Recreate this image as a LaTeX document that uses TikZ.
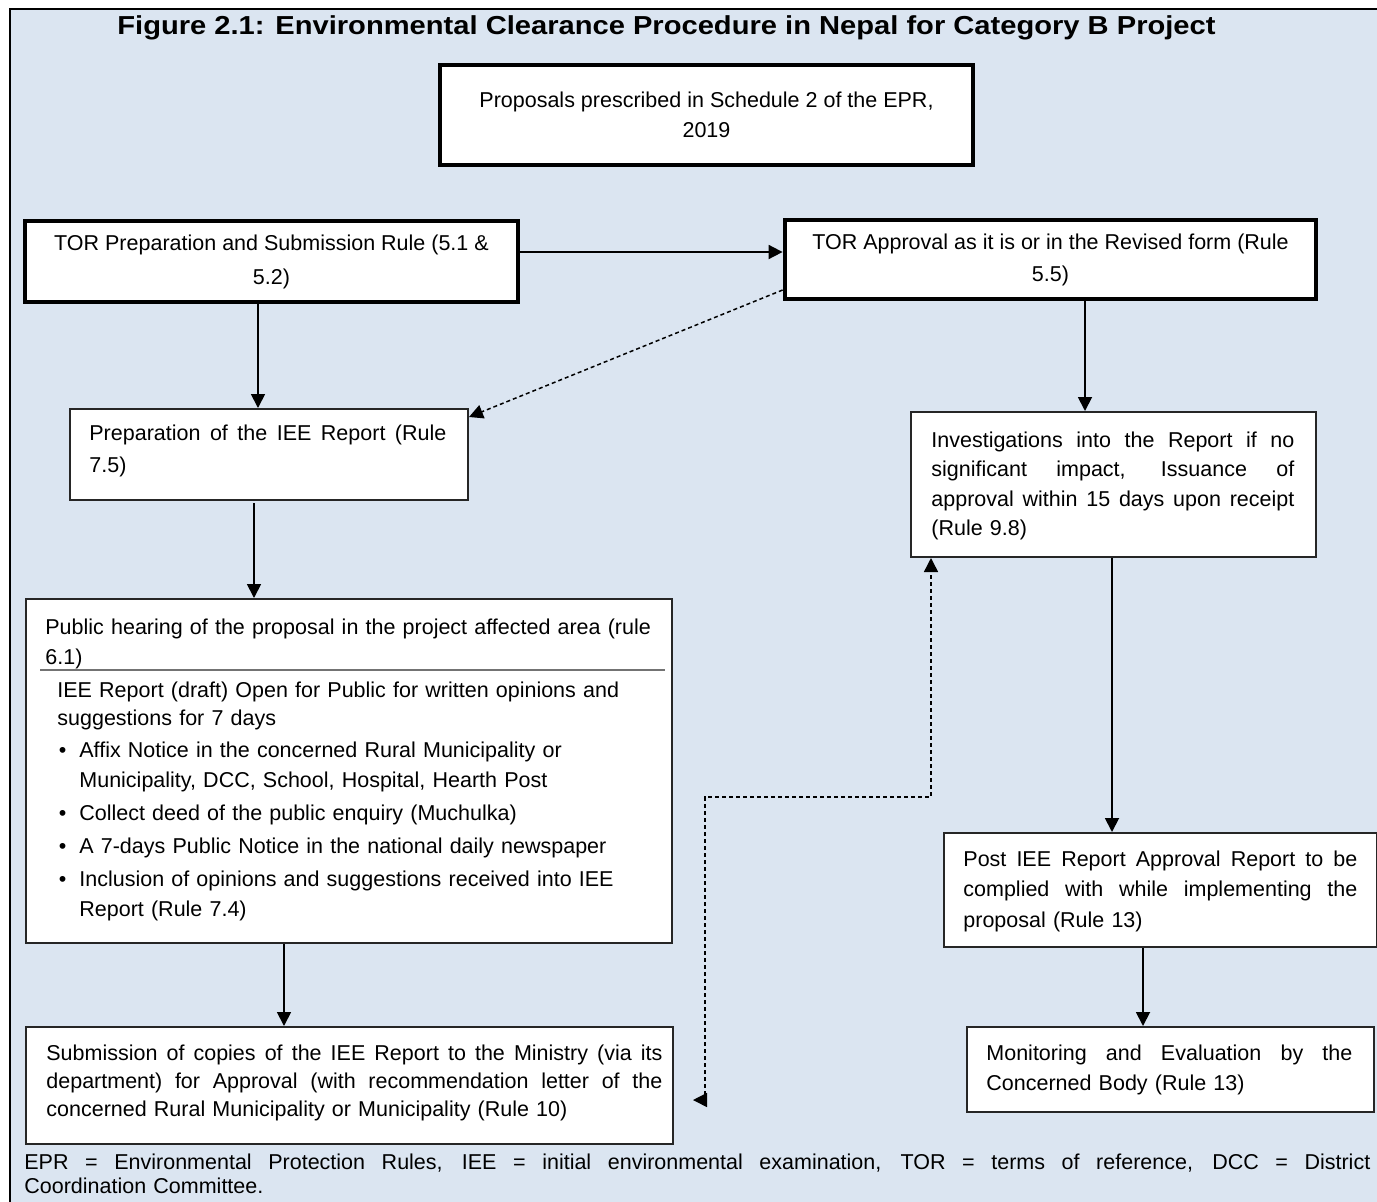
\documentclass[tikz,border=0pt]{standalone}
\usepackage{fontspec}
\setmainfont{Liberation Sans}
\usetikzlibrary{arrows.meta}
\definecolor{bgblue}{HTML}{DBE5F1}
\newcommand\bodyfs[1]{\fontsize{10.75pt}{#1}\selectfont}
\newcommand\jl[2]{\leavevmode\hbox to #1{\spaceskip=\fontdimen2\font plus 1fil\relax\xspaceskip=\spaceskip #2}}
\begin{document}
\begin{tikzpicture}[x=0.5pt,y=-0.5pt,
  box/.style={draw=black!85, line width=1pt, fill=white, inner sep=0pt, anchor=north west},
  thickbox/.style={draw=black, line width=2.4pt, fill=white, inner sep=0pt, align=center},
  txt/.style={inner sep=0pt, anchor=north west, align=left},
  arr/.style={line width=0.9pt, -{Triangle[length=7pt,width=7pt]}},
  darr/.style={line width=0.75pt, dash pattern=on 2pt off 1.5pt, -{Triangle[length=7pt,width=7pt]}},
  ddarr/.style={line width=0.75pt, dash pattern=on 2pt off 1.5pt, {Triangle[length=7pt,width=7pt]}-{Triangle[length=7pt,width=7pt]}}]
\useasboundingbox (0,0) rectangle (1377,1201);
\clip (0,0) rectangle (1377,1201);
\fill[white] (0,0) rectangle (1377,1201);
\fill[bgblue] (10,9) rectangle (1400,1220);
\draw[line width=1pt] (10,1220) -- (10,9) -- (1400,9);

% title
\node[inner sep=0pt, font=\fontsize{13pt}{15pt}\selectfont\bfseries] (title) at (666.5,28)
  {\scalebox{1.12}[1]{Figure 2.1: Environmental Clearance Procedure in Nepal for Category B Project}};

% thick boxes
\node[thickbox, minimum width=266.5pt, minimum height=50pt, font=\bodyfs{15pt}] (b0) at (706.5,115)
  {Proposals prescribed in Schedule 2 of the EPR,\\2019};
\node[thickbox, minimum width=246.5pt, minimum height=40.5pt, font=\bodyfs{17pt}] (b1) at (271.5,261.5)
  {TOR Preparation and Submission Rule (5.1 \&\\5.2)};
\node[thickbox, minimum width=265.5pt, minimum height=39.5pt, font=\bodyfs{16pt}] (b2) at (1050.5,259.5)
  {TOR Approval as it is or in the Revised form (Rule\\5.5)};

% plain boxes
\node[box, minimum width=199pt, minimum height=45.5pt] (b3) at (69,408) {};
\node[box, minimum width=202.5pt, minimum height=72.5pt] (b4) at (910,411) {};
\node[box, minimum width=323pt, minimum height=172pt] (b5) at (25,598) {};
\node[box, minimum width=323.5pt, minimum height=58.5pt] (b6) at (25,1026) {};
\node[box, minimum width=216.5pt, minimum height=57pt] (b7) at (943,832) {};
\node[box, minimum width=203.5pt, minimum height=42.5pt] (b8) at (966,1026) {};

% texts
\node[txt, text width=180pt, font=\bodyfs{16pt}] (t3) at (89,417.6)
  {\strut\jl{178.5pt}{Preparation of the IEE Report (Rule}\\7.5)};
\node[txt, text width=182pt, font=\bodyfs{14.75pt}] (t4) at (931,426.3)
  {\strut\jl{181.5pt}{Investigations into the Report if no}\\
   \jl{181.5pt}{significant impact, Issuance of}\\
   \jl{181.5pt}{approval within 15 days upon receipt}\\
   (Rule 9.8)};
\node[txt, text width=315pt, font=\bodyfs{15pt}] (t5h) at (45,613)
  {\strut Public hearing of the proposal in the project affected area (rule\\6.1)};
\draw[line width=0.9pt, black!55] (40,670) -- (665,670);
\node[txt, text width=300pt, font=\bodyfs{14pt}] (t5i) at (57,677.4)
  {\strut IEE Report (draft) Open for Public for written opinions and\\suggestions for 7 days};
\node[txt, text width=290pt, font=\bodyfs{15pt}] (i1) at (79,736)
  {\strut\llap{\textbullet\hspace{6.5pt}}Affix Notice in the concerned Rural Municipality or\\Municipality, DCC, School, Hospital, Hearth Post};
\node[txt, text width=290pt, font=\bodyfs{15pt}] (i2) at (79,799)
  {\strut\llap{\textbullet\hspace{6.5pt}}Collect deed of the public enquiry (Muchulka)};
\node[txt, text width=290pt, font=\bodyfs{15pt}] (i3) at (79,832)
  {\strut\llap{\textbullet\hspace{6.5pt}}A 7-days Public Notice in the national daily newspaper};
\node[txt, text width=290pt, font=\bodyfs{15pt}] (i4) at (79,865)
  {\strut\llap{\textbullet\hspace{6.5pt}}Inclusion of opinions and suggestions received into IEE\\Report (Rule 7.4)};
\node[txt, text width=309pt, font=\bodyfs{14pt}] (t6) at (46,1040)
  {\strut\jl{308pt}{Submission of copies of the IEE Report to the Ministry (via its}\\
   \jl{308pt}{department) for Approval (with recommendation letter of the}\\
   concerned Rural Municipality or Municipality (Rule 10)};
\node[txt, text width=198pt, font=\bodyfs{15.25pt}] (t7) at (963,844.6)
  {\strut\jl{197pt}{Post IEE Report Approval Report to be}\\
   \jl{197pt}{complied with while implementing the}\\
   proposal (Rule 13)};
\node[txt, text width=184pt, font=\bodyfs{15pt}] (t8) at (986,1039)
  {\strut\jl{183pt}{Monitoring and Evaluation by the}\\
   Concerned Body (Rule 13)};
\node[txt, text width=674pt, font=\bodyfs{12pt}] (foot) at (24,1152.2)
  {\strut\jl{673pt}{EPR = Environmental Protection Rules, IEE = initial environmental examination, TOR = terms of reference, DCC = District}\\
   Coordination Committee.};

% x positions for connectors
\coordinate (xa) at (258,0);
\coordinate (xb) at (1085,0);
\coordinate (xc) at (254,0);
\coordinate (xd) at (284,0);
\coordinate (xe) at (1112,0);
\coordinate (xf) at (1143,0);
\coordinate (ya) at (0,252);
\coordinate (yb) at (0,290);
\coordinate (yc) at (0,417);
\coordinate (s3) at (254,503);

% solid connectors
\draw[arr] (b1.east |- ya) -- (b2.west |- ya);
\draw[arr] (b1.south -| xa) -- (b3.north -| xa);
\draw[arr] (b2.south -| xb) -- (b4.north -| xb);
\draw[arr] (s3) -- (b5.north -| xc);
\draw[arr] (b5.south -| xd) -- (b6.north -| xd);
\draw[arr] (b4.south -| xe) -- (b7.north -| xe);
\draw[arr] (b7.south -| xf) -- (b8.north -| xf);

% dashed connectors
\draw[darr] (b2.west |- yb) -- (b3.east |- yc);
\coordinate (d0) at (693,1100);
\coordinate (d1) at (705,1100);
\coordinate (d2) at (705,797);
\coordinate (d3) at (931,797);
\draw[ddarr] (d0) -- (d1) -- (d2) -- (d3) -- (b4.south -| d3);
\end{tikzpicture}
\end{document}
